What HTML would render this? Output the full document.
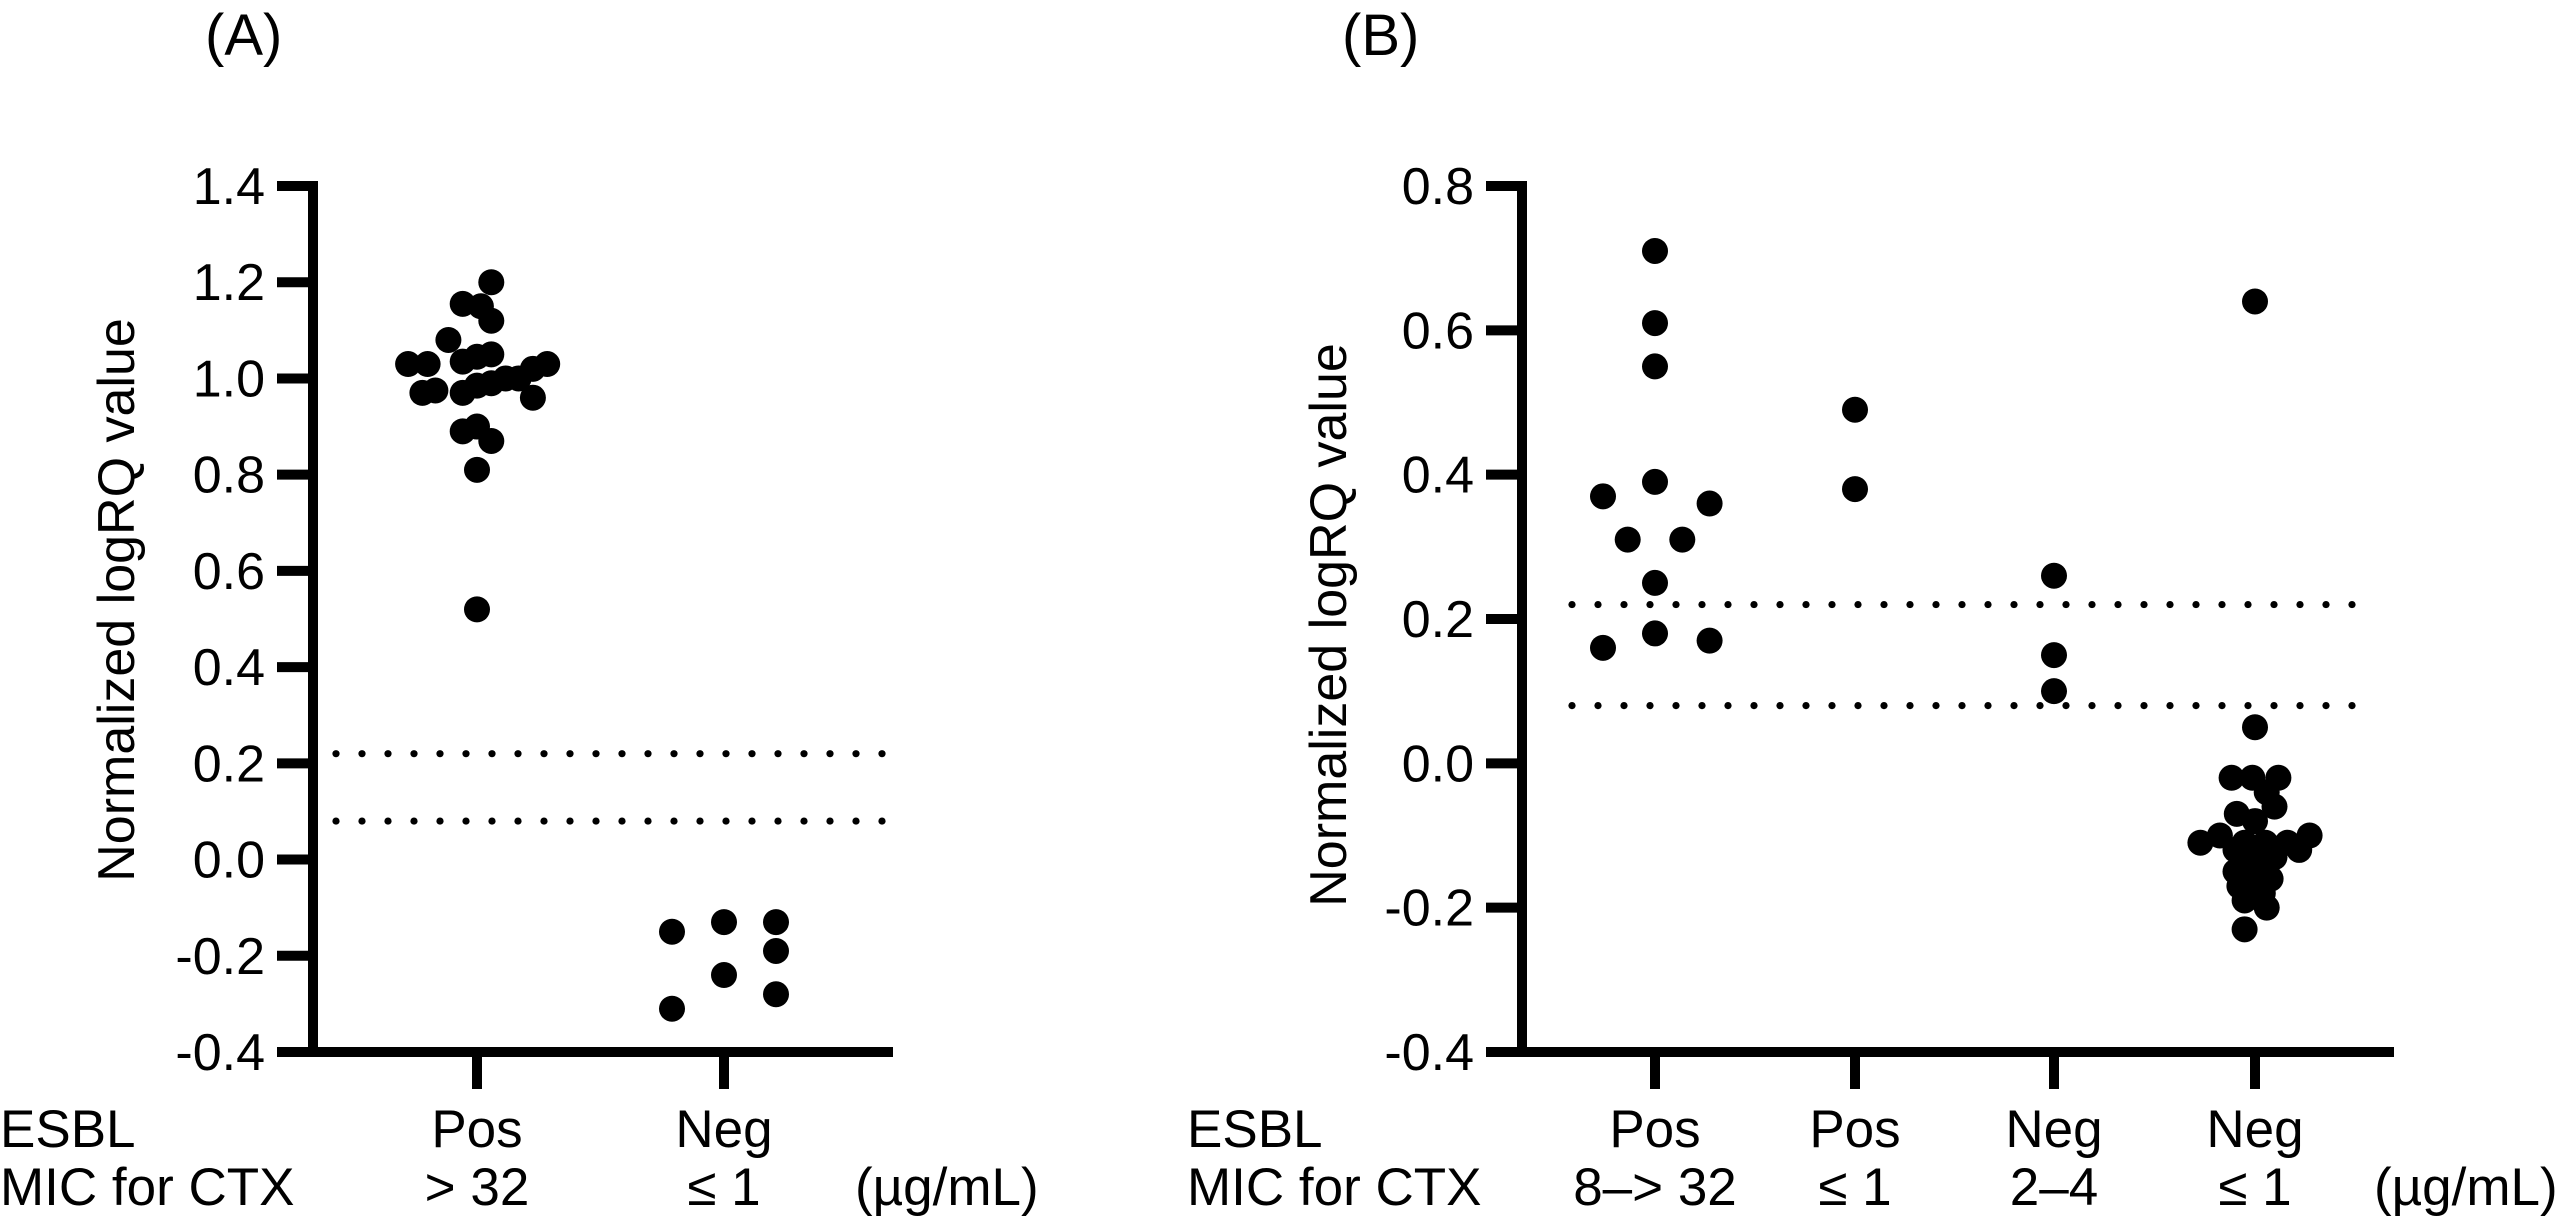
<!DOCTYPE html>
<html><head><meta charset="utf-8"><style>
html,body{margin:0;padding:0;background:#fff;}
svg{display:block;font-family:"Liberation Sans",Arial,sans-serif;}
</style></head><body>
<svg id="fig" width="2559" height="1218" viewBox="0 0 2559 1218">
<text x="205" y="55" font-size="58">(A)</text>
<text x="1342" y="55" font-size="58">(B)</text>
<text transform="translate(117,600) rotate(-90)" text-anchor="middle" dominant-baseline="central" font-size="52">Normalized logRQ value</text>
<text transform="translate(1329,625) rotate(-90)" text-anchor="middle" dominant-baseline="central" font-size="52">Normalized logRQ value</text>
<text x="0" y="1147" font-size="53">ESBL</text>
<text x="0" y="1205" font-size="53">MIC for CTX</text>
<text x="855" y="1205" font-size="53">(µg/mL)</text>
<text x="1187" y="1147" font-size="53">ESBL</text>
<text x="1187" y="1205" font-size="53">MIC for CTX</text>
<text x="2374" y="1205" font-size="53">(µg/mL)</text>
</svg>
<script>
// Panel A data
const catsA = [["Pos","> 32"],["Neg","≤ 1"]];
const ticksA = [1.4,1.2,1.0,0.8,0.6,0.4,0.2,0.0,-0.2,-0.4];
const tickLabelsA = ["1.4","1.2","1.0","0.8","0.6","0.4","0.2","0.0","-0.2","-0.4"];
const valsA0 = [1.20,1.155,1.15,1.12,1.08,1.03,1.03,1.035,1.045,1.05,1.02,1.03,0.97,0.975,0.97,0.985,0.99,1.0,1.0,0.96,0.89,0.90,0.87,0.81,0.52];
const jitA0 = [1.1,-1.1,0.3,1.1,-2.2,-5.3,-3.8,-1.1,0,1.1,4.3,5.4,-4.2,-3.2,-1.1,0,1.1,2.2,3.2,4.3,-1.1,0,1.1,0,0];
const valsA1 = [-0.15,-0.31,-0.13,-0.24,-0.13,-0.19,-0.28];
const jitA1 = [-4,-4,0,0,4,4,4];
const refLinesA = [0.22,0.08];
// Panel B data
const catsB = [["Pos","8–> 32"],["Pos","≤ 1"],["Neg","2–4"],["Neg","≤ 1"]];
const ticksB = [0.8,0.6,0.4,0.2,0.0,-0.2,-0.4];
const tickLabelsB = ["0.8","0.6","0.4","0.2","0.0","-0.2","-0.4"];
const valsB0 = [0.71,0.61,0.55,0.39,0.37,0.36,0.31,0.31,0.25,0.18,0.16,0.17];
const jitB0 = [0,0,0,0,-4,4.2,-2.1,2.1,0,0,-4,4.2];
const valsB1 = [0.49,0.38];
const jitB1 = [0,0];
const valsB2 = [0.26,0.15,0.10];
const jitB2 = [0,0,0];
const valsB3 = [0.64,0.05,-0.02,-0.02,-0.02,-0.04,-0.06,-0.07,-0.08,-0.10,-0.10,-0.11,-0.11,-0.11,-0.11,-0.12,-0.12,-0.13,-0.13,-0.14,-0.14,-0.15,-0.15,-0.16,-0.16,-0.17,-0.17,-0.18,-0.19,-0.20,-0.23];
const jitB3 = [0,0,-1.8,-0.2,1.8,0.9,1.5,-1.4,0,-2.7,4.2,-4.2,2.5,-0.8,0.8,3.4,-1.5,0,1.5,-0.9,0.9,-1.5,0.4,-0.6,1.2,0,-1.2,0.6,-0.8,0.9,-0.8];
const refLinesB = [0.22,0.08];

const NS="http://www.w3.org/2000/svg";
const svg=document.getElementById('fig');
function mk(tag,attrs,parent){const e=document.createElementNS(NS,tag);for(const k in attrs)e.setAttribute(k,attrs[k]);(parent||svg).appendChild(e);return e;}

function panel(p){
  const yTop=186,yBot=1052;
  const y=v=>yTop+(p.max-v)/(p.max-p.min)*(yBot-yTop);
  const g=mk('g',{});
  
  
  // reference dotted lines
  p.refs.forEach((r,i)=>{
    const lg=mk('g',{},g);
    
    
    for(let x=p.dotX0;x<=p.dotX1+1;x+=26){mk('circle',{cx:x,cy:y(r),r:3.6,fill:'#000'},lg);}
  });
  // y axis
  const ya=mk('line',{x1:p.ax,y1:yTop-5,x2:p.ax,y2:yBot+5,stroke:'#000','stroke-width':10},g);
  
  
  p.ticks.forEach((t,i)=>{
    mk('line',{x1:p.ax-36,y1:y(t),x2:p.ax,y2:y(t),stroke:'#000','stroke-width':10},g);
    const tx=mk('text',{x:p.ax-48,y:y(t)+18,'text-anchor':'end','font-size':52},g);
    tx.textContent=p.tickLabels[i];
    
    
  });
  // x axis
  const xa=mk('line',{x1:p.ax-5,y1:yBot,x2:p.xEnd,y2:yBot,stroke:'#000','stroke-width':10},g);
  
  
  p.cats.forEach((c,i)=>{
    const cx=p.catX[i];
    mk('line',{x1:cx,y1:yBot,x2:cx,y2:1089,stroke:'#000','stroke-width':10},g);
    const t1=mk('text',{x:cx,y:1147,'text-anchor':'middle','font-size':53},g);
    t1.textContent=c[0];
    
    
    const t2=mk('text',{x:cx,y:1205,'text-anchor':'middle','font-size':53},g);
    t2.textContent=c[1];
    
    
    const vals=p.vals[i],jit=p.jit[i];
    vals.forEach((v,j)=>{
      const d=mk('circle',{cx:cx+(jit[j]||0)*13,cy:y(v),r:13,fill:'#000'},g);
      
      
    });
  });
}
panel({name:'panel-a',max:1.4,min:-0.4,ax:313,xEnd:893,ticks:ticksA,tickLabels:tickLabelsA,cats:catsA,catX:[477,724],
  vals:[valsA0,valsA1],jit:[jitA0,jitA1],refs:refLinesA,dotX0:336,dotX1:885});
panel({name:'panel-b',max:0.8,min:-0.4,ax:1522,xEnd:2394,ticks:ticksB,tickLabels:tickLabelsB,cats:catsB,catX:[1655,1855,2054,2255],
  vals:[valsB0,valsB1,valsB2,valsB3],jit:[jitB0,jitB1,jitB2,jitB3],refs:refLinesB,dotX0:1572,dotX1:2359});
</script>
</body></html>
